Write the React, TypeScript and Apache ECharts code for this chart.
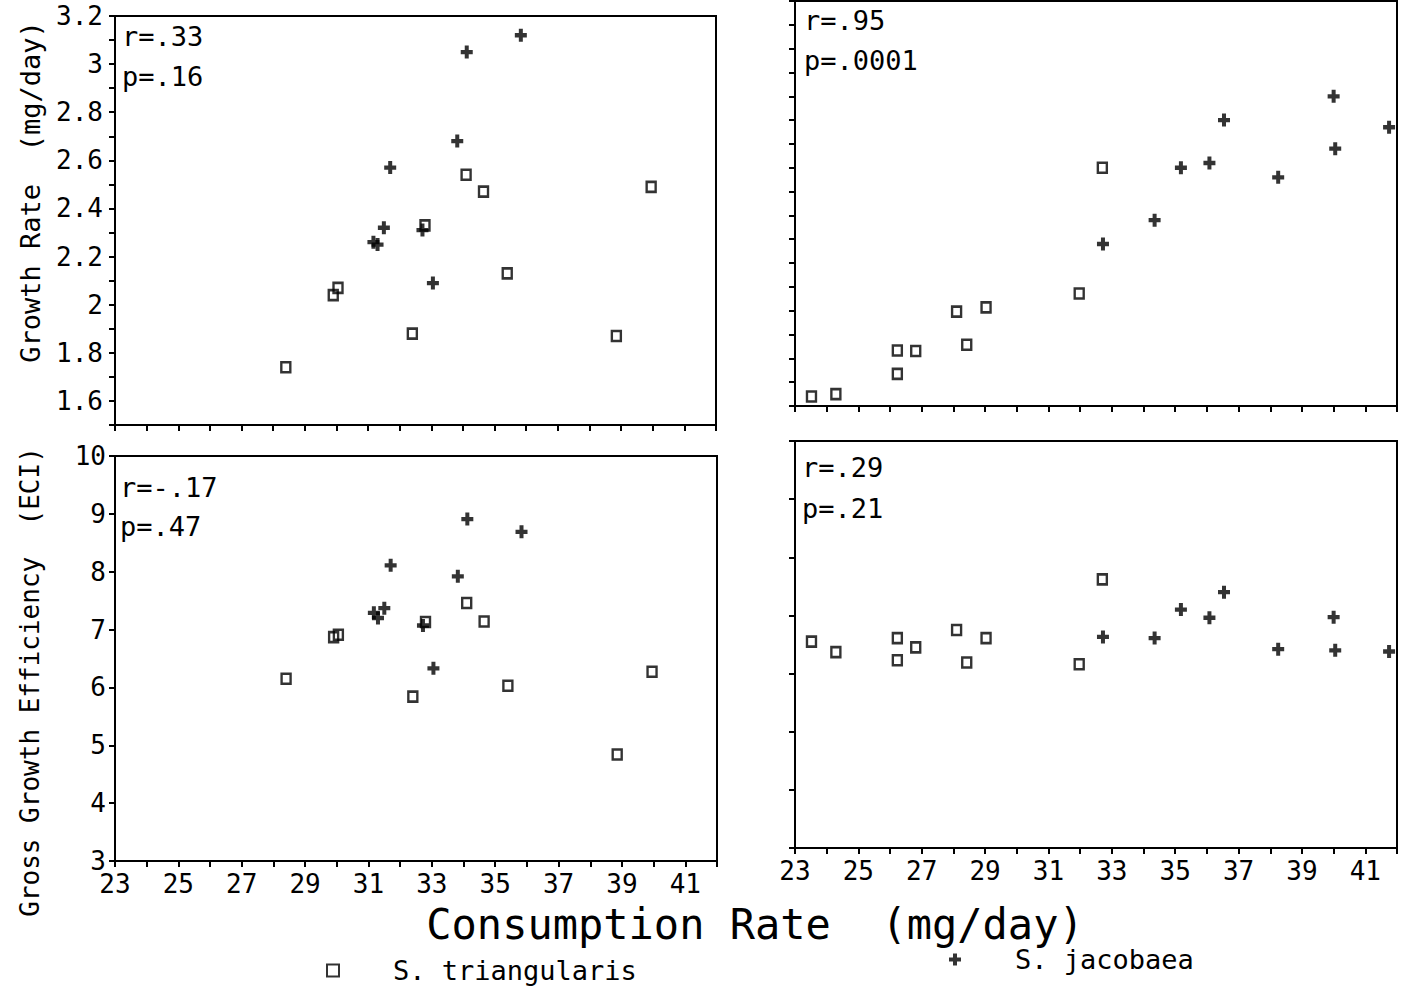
import React, { useEffect, useRef } from "react";
import * as echarts from "echarts";

// ---- Data ----
const xTickMin = 23;
const xTickMax = 42;

// Left panels
const leftTriConsumption = [28.4, 29.9, 30.05, 32.4, 32.8, 34.1, 34.65, 35.4, 38.85, 39.95];
const leftTriGrowth = [1.74, 2.04, 2.07, 1.88, 2.33, 2.54, 2.47, 2.13, 1.87, 2.49];
const leftTriECI = [6.15, 6.87, 6.91, 5.84, 7.13, 7.46, 7.14, 6.03, 4.84, 6.27];

const leftJacConsumption = [31.7, 31.17, 31.3, 31.5, 32.72, 33.05, 33.82, 34.12, 35.83];
const leftJacGrowth = [2.57, 2.26, 2.25, 2.32, 2.31, 2.09, 2.68, 3.05, 3.12];
const leftJacECI = [8.11, 7.29, 7.2, 7.37, 7.07, 6.33, 7.92, 8.91, 8.69];

// Right panels
const rightTriConsumption = [23.52, 24.29, 26.23, 26.23, 26.81, 28.1, 28.42, 29.03, 31.97, 32.7];
const rightTriGrowth = [1.54, 1.55, 1.635, 1.733, 1.731, 1.896, 1.757, 1.914, 1.972, 2.5];
const rightTriECI = [6.55, 6.37, 6.23, 6.61, 6.45, 6.75, 6.19, 6.61, 6.16, 7.62];

const rightJacConsumption = [32.72, 34.35, 35.18, 36.08, 36.54, 38.25, 40.0, 40.05, 41.75];
const rightJacGrowth = [2.18, 2.28, 2.5, 2.52, 2.7, 2.46, 2.8, 2.58, 2.67];
const rightJacECI = [6.63, 6.61, 7.1, 6.96, 7.4, 6.42, 6.97, 6.4, 6.38];

const growthMin = 1.5;
const growthMax = 3.2;
const eciMin = 3;
const eciMax = 10;

const statsText = [
  ["r=.33", "p=.16"],
  ["r=.95", "p=.0001"],
  ["r=-.17", "p=.47"],
  ["r=.29", "p=.21"],
];

const triName = "S. triangularis";
const jacName = "S. jacobaea";
const xTitle = "Consumption Rate  (mg/day)";
const yTitleTop = "Growth Rate  (mg/day)";
const yTitleBottom = "Gross Growth Efficiency  (ECI)";

const FONT = '"DejaVu Sans Mono", "Liberation Mono", monospace';
const PLUS = "path://M4,0H8V4H12V8H8V12H4V8H0V4H4Z";

const zip = (xs: number[], ys: number[]) => xs.map((x, i) => [x, ys[i]]);

export default function App() {
  const ref = useRef<HTMLDivElement>(null);

  useEffect(() => {
    if (!ref.current) return;
    const chart = echarts.init(ref.current, null, { renderer: "svg" });

    const grids = [
      { left: 115, top: 16, width: 601, height: 409 },
      { left: 795, top: 1, width: 602, height: 405 },
      { left: 115, top: 456, width: 602, height: 405 },
      { left: 795, top: 441, width: 602, height: 407 },
    ].map((g) => ({
      ...g,
      show: true,
      borderColor: "#000",
      borderWidth: 2,
      backgroundColor: "transparent",
      containLabel: false,
      outerBoundsMode: "none",
    }));

    const axisLine = { show: true, onZero: false, lineStyle: { color: "#000", width: 2 } };
    const axisTick = { show: true, inside: false, length: 6, lineStyle: { color: "#000", width: 2 } };

    const xAxes = [0, 1, 2, 3].map((i) => ({
      type: "value",
      gridIndex: i,
      min: xTickMin,
      max: xTickMax,
      interval: 1,
      axisLine,
      axisTick,
      splitLine: { show: false },
      axisLabel: {
        show: i >= 2,
        margin: 10,
        color: "#000",
        fontSize: 26,
        fontFamily: FONT,
        formatter: (v: number) => ((Math.round(v) - xTickMin) % 2 === 0 && v < xTickMax ? String(Math.round(v)) : ""),
      },
    }));

    const yAxes = [0, 1, 2, 3].map((i) => {
      const top = i < 2;
      return {
        type: "value",
        gridIndex: i,
        min: top ? growthMin : eciMin,
        max: top ? growthMax : eciMax,
        interval: top ? 0.1 : 1,
        axisLine,
        axisTick,
        splitLine: { show: false },
        axisLabel: {
          show: i === 0 || i === 2,
          margin: top ? 12 : 9,
          color: "#000",
          fontSize: 26,
          fontFamily: FONT,
          formatter: (v: number) => {
            if (!top) return String(Math.round(v));
            const t = Math.round(v * 10);
            return t % 2 === 0 ? String(t / 10) : "";
          },
        },
      };
    });

    const squareStyle = {
      symbol: "rect",
      symbolSize: [9, 10],
      itemStyle: { color: "rgba(0,0,0,0)", borderColor: "#000", borderWidth: 2.5 },
    };
    const plusStyle = {
      symbol: PLUS,
      symbolSize: [12, 13],
      itemStyle: { color: "#000" },
    };

    const panelData = [
      [zip(leftTriConsumption, leftTriGrowth), zip(leftJacConsumption, leftJacGrowth)],
      [zip(rightTriConsumption, rightTriGrowth), zip(rightJacConsumption, rightJacGrowth)],
      [zip(leftTriConsumption, leftTriECI), zip(leftJacConsumption, leftJacECI)],
      [zip(rightTriConsumption, rightTriECI), zip(rightJacConsumption, rightJacECI)],
    ];

    const series: any[] = [];
    panelData.forEach(([tri, jac], i) => {
      series.push({ type: "scatter", name: triName, xAxisIndex: i, yAxisIndex: i, data: tri, ...squareStyle });
      series.push({ type: "scatter", name: jacName, xAxisIndex: i, yAxisIndex: i, data: jac, ...plusStyle });
    });

    const statPos = [
      [122, 36, 76],
      [804, 20, 60],
      [120, 487, 526],
      [802, 467, 508],
    ];
    const graphics: any[] = [];
    statsText.forEach(([r, p], i) => {
      const [x, y1, y2] = statPos[i];
      graphics.push({ type: "text", x, y: y1, style: { text: r, fontSize: 27, fontFamily: FONT, fill: "#000", verticalAlign: "middle" } });
      graphics.push({ type: "text", x, y: y2, style: { text: p, fontSize: 27, fontFamily: FONT, fill: "#000", verticalAlign: "middle" } });
    });
    graphics.push({
      type: "text", x: 30, y: 192, rotation: Math.PI / 2,
      style: { text: yTitleTop, fontSize: 27, fontFamily: FONT, fill: "#000", align: "center", verticalAlign: "middle" },
    });
    graphics.push({
      type: "text", x: 30, y: 682, rotation: Math.PI / 2,
      style: { text: yTitleBottom, fontSize: 26, fontFamily: FONT, fill: "#000", align: "center", verticalAlign: "middle" },
    });
    graphics.push({
      type: "text", x: 755, y: 924,
      style: { text: xTitle, fontSize: 42, fontFamily: FONT, fill: "#000", align: "center", verticalAlign: "middle" },
    });

    chart.setOption({
      animation: false,
      backgroundColor: "#fff",
      grid: grids,
      xAxis: xAxes,
      yAxis: yAxes,
      series,
      graphic: graphics,
      legend: [
        {
          data: [triName],
          left: 321,
          top: 952,
          itemWidth: 12,
          itemHeight: 12,
          selectedMode: false,
          textStyle: { fontSize: 27, fontFamily: FONT, color: "#000", padding: [0, 0, 0, 49] },
        },
        {
          data: [jacName],
          left: 944,
          top: 941,
          itemWidth: 12,
          itemHeight: 13,
          selectedMode: false,
          textStyle: { fontSize: 27, fontFamily: FONT, color: "#000", padding: [0, 0, 0, 49] },
        },
      ],
    });

    return () => chart.dispose();
  }, []);

  return (
    <div
      ref={ref}
      style={{ position: "absolute", left: 0, top: 0, width: 1401, height: 986, background: "#fff" }}
    />
  );
}
